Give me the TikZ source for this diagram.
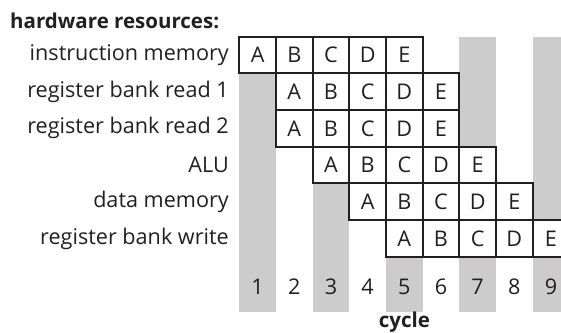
\documentclass[tikz,border=0pt]{standalone}
\usepackage{fontspec}
\setmainfont{Open Sans}
\definecolor{stripe}{HTML}{CCCCCC}
\definecolor{ink}{HTML}{231F20}
\tikzset{
  txt/.style={text=ink, inner sep=0pt, font=\fontsize{21.6}{25}\selectfont},
  cell/.style={txt, draw=ink, fill=white, line width=1.8pt, minimum width=36.67pt, minimum height=36.67pt},
  rlabel/.style={txt, anchor=east},
  title/.style={text=ink, inner sep=0pt, font=\fontsize{20.5}{24}\selectfont\bfseries}
}
\begin{document}
\begin{tikzpicture}[x=1pt,y=-1pt]
\clip (0,0) rectangle (561,332);
\foreach \c in {1,3,5,7,9}
  \fill[stripe] ({239.3+(\c-1)*36.67},36.7) rectangle +(36.67,275);
\foreach \r/\s in {1/1,2/2,3/2,4/3,5/4,6/5}
  \foreach \l [count=\i from 0] in {A,B,C,D,E}
    \node[cell] (c-\r-\l) at ({239.3+(\s+\i-1)*36.67+18.335},{36.7+(\r-1)*36.67+18.335}) {\l};
\node[title, anchor=west] (hw) at (10,20.5) {hardware resources:};
\foreach \r/\t in {1/instruction memory,2/register bank read 1,3/register bank read 2,4/ALU,5/data memory,6/register bank write}
  \node[rlabel] (lab-\r) at (229,{36.7+(\r-1)*36.67+18.335}) {\t};
\foreach \c in {1,...,9}
  \node[txt] (n-\c) at ({239.3+(\c-1)*36.67+18.335},286.7) {\c};
\node[title] (cyc) at (404.5,322) {cycle};
\end{tikzpicture}
\end{document}
